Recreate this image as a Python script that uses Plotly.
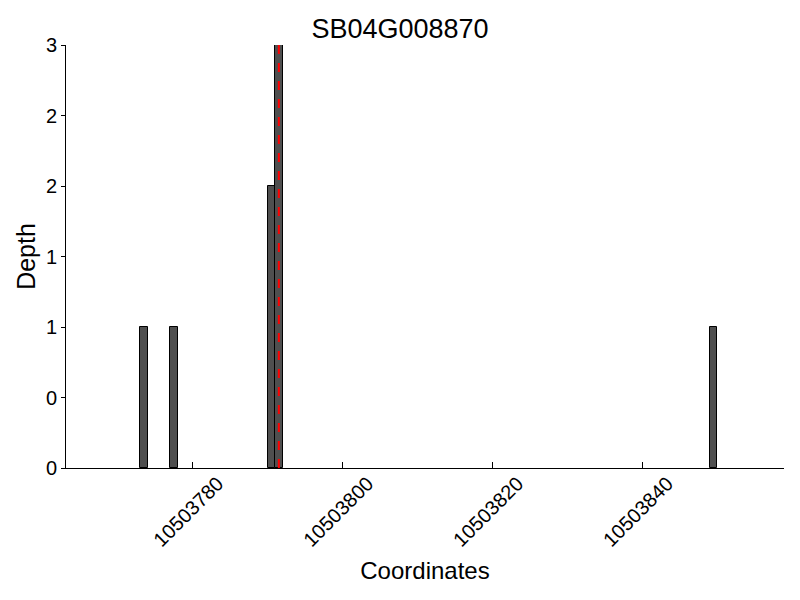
import plotly.graph_objects as go

title = "SB04G008870"
positions = [10503773, 10503777, 10503790, 10503791, 10503849]
depths = [1, 1, 2, 3, 1]
snp_position = 10503791.5
x_ticks = [10503780, 10503800, 10503820, 10503840]
y_ticks = [0, 0.5, 1, 1.5, 2, 2.5, 3]
y_tick_text = ["0", "0", "1", "1", "2", "2", "3"]
x_range = [10503763.1, 10503858.9]
y_range = [0, 3]

FONT = "Liberation Sans, Arial, sans-serif"

fig = go.Figure()
fig.add_trace(go.Bar(
    x=positions, y=depths, width=1, offset=0,
    marker=dict(color="#4f4f4f", line=dict(color="black", width=1)),
    showlegend=False,
))
fig.add_trace(go.Scatter(
    x=[snp_position, snp_position], y=y_range, mode="lines",
    line=dict(color="red", width=2, dash="dash"), showlegend=False,
))

# page body has an 8px default margin, so the figure is drawn 8px in
fig.update_layout(
    width=784, height=584,
    margin=dict(l=58, r=8, t=37, b=124, autoexpand=False),
    paper_bgcolor="white", plot_bgcolor="white",
    font=dict(family=FONT, color="black", size=20),
    title=dict(text=title, x=0.5, xanchor="center", y=0.964, yanchor="middle",
               font=dict(size=27, family=FONT), automargin=False),
    bargap=0,
)
fig.update_xaxes(
    range=x_range, tickvals=x_ticks, ticktext=[str(v) for v in x_ticks],
    tickangle=-45, ticks="inside", ticklen=6, tickcolor="black",
    showline=True, linecolor="black", linewidth=1, mirror=False,
    showgrid=False, zeroline=False, automargin=False,
    tickfont=dict(size=20), ticklabelshift=25, ticklabelstandoff=-5,
    title=dict(text="Coordinates", font=dict(size=24), standoff=12),
)
fig.update_yaxes(
    range=y_range, tickvals=y_ticks, ticktext=y_tick_text,
    ticks="outside", ticklen=4, tickcolor="black",
    showline=True, linecolor="black", linewidth=1,
    showgrid=False, zeroline=False, automargin=False,
    tickfont=dict(size=20),
    title=dict(text="Depth", font=dict(size=25), standoff=3),
)
fig.write_html("out.html")
